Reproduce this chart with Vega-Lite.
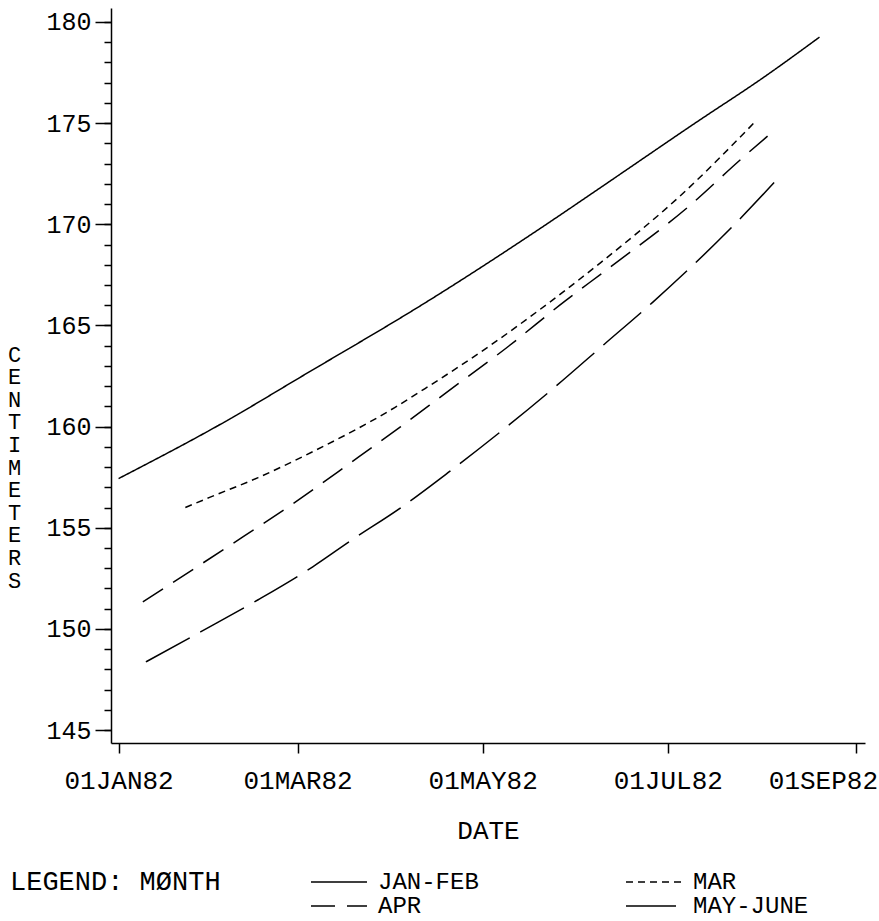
{
  "$schema": "https://vega.github.io/schema/vega-lite/v6.json",
  "autosize": "none",
  "width": 754,
  "height": 735,
  "padding": {"left": 111, "top": 8, "right": 14, "bottom": 178},
  "background": "white",
  "config": {
    "view": {"stroke": null},
    "font": "Liberation Mono",
    "axis": {"labelFont": "Liberation Mono", "titleFont": "Liberation Mono", "labelColor": "black", "titleColor": "black", "domainColor": "black", "tickColor": "black", "domainWidth": 1.5, "tickWidth": 1.5, "grid": false, "titleFontWeight": "normal"},
    "legend": {"labelFont": "Liberation Mono", "titleFont": "Liberation Mono"}
  },
  "data": {"values": [
    {"date": "1982-01-01", "cm": 157.43, "month": "JAN-FEB"},
    {"date": "1982-02-06", "cm": 160.32, "month": "JAN-FEB"},
    {"date": "1982-03-02", "cm": 162.45, "month": "JAN-FEB"},
    {"date": "1982-04-14", "cm": 166.3, "month": "JAN-FEB"},
    {"date": "1982-05-24", "cm": 170.2, "month": "JAN-FEB"},
    {"date": "1982-06-09", "cm": 171.83, "month": "JAN-FEB"},
    {"date": "1982-07-11", "cm": 175.1, "month": "JAN-FEB"},
    {"date": "1982-08-01", "cm": 177.2, "month": "JAN-FEB"},
    {"date": "1982-08-20", "cm": 179.25, "month": "JAN-FEB"},
    {"date": "1982-01-23", "cm": 156.0, "month": "MAR"},
    {"date": "1982-01-31", "cm": 156.5, "month": "MAR"},
    {"date": "1982-02-16", "cm": 157.48, "month": "MAR"},
    {"date": "1982-03-06", "cm": 158.76, "month": "MAR"},
    {"date": "1982-04-02", "cm": 160.94, "month": "MAR"},
    {"date": "1982-04-12", "cm": 161.88, "month": "MAR"},
    {"date": "1982-05-03", "cm": 163.96, "month": "MAR"},
    {"date": "1982-05-23", "cm": 166.14, "month": "MAR"},
    {"date": "1982-06-09", "cm": 168.12, "month": "MAR"},
    {"date": "1982-07-05", "cm": 171.39, "month": "MAR"},
    {"date": "1982-07-30", "cm": 175.1, "month": "MAR"},
    {"date": "1982-01-09", "cm": 151.34, "month": "APR"},
    {"date": "1982-02-06", "cm": 154.06, "month": "APR"},
    {"date": "1982-02-27", "cm": 156.14, "month": "APR"},
    {"date": "1982-03-19", "cm": 158.27, "month": "APR"},
    {"date": "1982-04-04", "cm": 160.0, "month": "APR"},
    {"date": "1982-04-19", "cm": 161.68, "month": "APR"},
    {"date": "1982-05-09", "cm": 163.91, "month": "APR"},
    {"date": "1982-05-28", "cm": 166.19, "month": "APR"},
    {"date": "1982-06-11", "cm": 167.77, "month": "APR"},
    {"date": "1982-07-08", "cm": 170.89, "month": "APR"},
    {"date": "1982-07-25", "cm": 173.2, "month": "APR"},
    {"date": "1982-08-04", "cm": 174.5, "month": "APR"},
    {"date": "1982-01-10", "cm": 148.37, "month": "MAY-JUNE"},
    {"date": "1982-01-28", "cm": 149.85, "month": "MAY-JUNE"},
    {"date": "1982-02-16", "cm": 151.44, "month": "MAY-JUNE"},
    {"date": "1982-03-06", "cm": 153.07, "month": "MAY-JUNE"},
    {"date": "1982-03-19", "cm": 154.41, "month": "MAY-JUNE"},
    {"date": "1982-04-04", "cm": 155.99, "month": "MAY-JUNE"},
    {"date": "1982-04-20", "cm": 157.77, "month": "MAY-JUNE"},
    {"date": "1982-05-09", "cm": 160.0, "month": "MAY-JUNE"},
    {"date": "1982-05-25", "cm": 161.98, "month": "MAY-JUNE"},
    {"date": "1982-06-10", "cm": 164.06, "month": "MAY-JUNE"},
    {"date": "1982-06-26", "cm": 166.14, "month": "MAY-JUNE"},
    {"date": "1982-07-25", "cm": 170.3, "month": "MAY-JUNE"},
    {"date": "1982-08-07", "cm": 172.38, "month": "MAY-JUNE"}
  ]},
  "layer": [
    {
      "mark": {"type": "line", "color": "black", "strokeWidth": 1.5, "interpolate": "monotone"},
      "encoding": {
        "x": {
          "field": "date", "type": "temporal",
          "scale": {"type": "utc", "domain": [{"year": 1981, "month": 12, "date": 29, "hours": 12, "utc": true}, {"year": 1982, "month": 9, "date": 4, "utc": true}]},
          "axis": {
            "title": "DATE", "titleFontSize": 26, "titleY": 74, "titleBaseline": "top",
            "values": [
              {"year": 1982, "month": 1, "date": 1, "utc": true},
              {"year": 1982, "month": 3, "date": 1, "utc": true},
              {"year": 1982, "month": 5, "date": 1, "utc": true},
              {"year": 1982, "month": 7, "date": 1, "utc": true},
              {"year": 1982, "month": 9, "date": 1, "utc": true}
            ],
            "labelExpr": "upper(utcFormat(datum.value, '%d%b%y'))",
            "labelFontSize": 26, "labelPadding": 14, "tickSize": 10, "labelFlush": false, "labelOverlap": false,
            "labelOffset": {"condition": {"test": "utcmonth(datum.value) == 8", "value": -33}, "value": 0}
          }
        },
        "y": {
          "field": "cm", "type": "quantitative",
          "scale": {"domain": [144.36, 180.69], "nice": false, "zero": false},
          "axis": {
            "values": [145, 150, 155, 160, 165, 170, 175, 180],
            "labelFontSize": 25, "tickSize": 16, "labelPadding": 4, "labelFlush": false, "labelOverlap": false,
            "title": ["C", "E", "N", "T", "I", "M", "E", "T", "E", "R", "S"],
            "titleAngle": 0, "titleAlign": "center", "titleBaseline": "top",
            "titleX": -97, "titleY": 336, "titleFontSize": 22, "titleLineHeight": 22.6
          }
        },
        "strokeDash": {
          "field": "month", "type": "nominal",
          "scale": {"domain": ["JAN-FEB", "MAR", "APR", "MAY-JUNE"], "range": [[1, 0], [7, 5], [24, 12], [50, 12]]},
          "legend": {
            "orient": "none", "legendX": -101, "legendY": 862,
            "direction": "horizontal", "columns": 2,
            "title": "LEGEND: MØNTH", "titleOrient": "left", "titleAnchor": "start", "titleBaseline": "line-top", "titleLineHeight": 24, "titleLimit": 400,
            "titleFontSize": 27, "titleFontWeight": "normal", "titleColor": "black", "titlePadding": 106,
            "symbolType": "M-3.111,0H3.111", "symbolSize": 324, "symbolStrokeWidth": 1.5, "symbolStrokeColor": "black", "symbolFillColor": "transparent",
            "labelFontSize": 24, "labelColor": "black", "labelOffset": 27, "labelLimit": 300, "columnPadding": 144, "rowPadding": 0
          }
        }
      }
    },
    {
      "mark": {"type": "point", "opacity": 0},
      "encoding": {
        "y": {
          "field": "cm", "type": "quantitative",
          "axis": {
            "orient": "left", "values": [145,146,147,148,149,150,151,152,153,154,155,156,157,158,159,160,161,162,163,164,165,166,167,168,169,170,171,172,173,174,175,176,177,178,179,180],
            "labels": false, "domain": false, "tickSize": 7, "title": null
          }
        }
      }
    }
  ],
  "resolve": {"axis": {"y": "independent"}}
}
